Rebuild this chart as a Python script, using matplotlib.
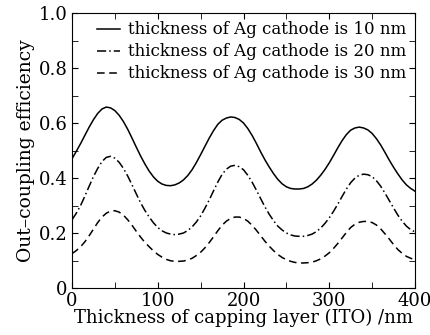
import matplotlib.pyplot as plt
import numpy as np

# Capping layer thickness (nm)
thickness = np.arange(0, 401, 5)

# Out-coupling efficiency for each Ag cathode thickness
eff_10nm = [0.470, 0.497, 0.525, 0.555, 0.585, 0.612, 0.635, 0.651, 0.658, 0.655,
            0.645, 0.628, 0.605, 0.577, 0.545, 0.512, 0.480, 0.451, 0.425, 0.404,
            0.388, 0.378, 0.373, 0.372, 0.375, 0.382, 0.393, 0.409, 0.430, 0.456,
            0.485, 0.515, 0.545, 0.572, 0.595, 0.610, 0.618, 0.622, 0.620, 0.613,
            0.600, 0.580, 0.555, 0.526, 0.495, 0.466, 0.440, 0.416, 0.395, 0.379,
            0.368, 0.362, 0.360, 0.360, 0.362, 0.368, 0.378, 0.392, 0.410, 0.431,
            0.455, 0.482, 0.510, 0.536, 0.558, 0.574, 0.582, 0.585, 0.582, 0.575,
            0.562, 0.543, 0.520, 0.493, 0.465, 0.439, 0.415, 0.393, 0.375, 0.362,
            0.352]
eff_20nm = [0.248, 0.272, 0.300, 0.334, 0.370, 0.405, 0.435, 0.460, 0.475, 0.479,
            0.472, 0.457, 0.435, 0.407, 0.375, 0.342, 0.310, 0.282, 0.258, 0.237,
            0.220, 0.208, 0.200, 0.196, 0.194, 0.196, 0.200, 0.209, 0.222, 0.240,
            0.262, 0.290, 0.320, 0.353, 0.385, 0.413, 0.432, 0.443, 0.446, 0.441,
            0.430, 0.410, 0.385, 0.356, 0.325, 0.295, 0.268, 0.245, 0.225, 0.211,
            0.200, 0.193, 0.189, 0.188, 0.188, 0.191, 0.196, 0.205, 0.218, 0.235,
            0.255, 0.279, 0.305, 0.333, 0.360, 0.383, 0.400, 0.410, 0.414, 0.412,
            0.405, 0.390, 0.370, 0.345, 0.318, 0.291, 0.265, 0.243, 0.225, 0.212,
            0.204]
eff_30nm = [0.125, 0.136, 0.150, 0.168, 0.190, 0.214, 0.238, 0.258, 0.272, 0.280,
            0.281, 0.276, 0.265, 0.248, 0.228, 0.206, 0.185, 0.166, 0.150, 0.135,
            0.122, 0.112, 0.104, 0.099, 0.097, 0.097, 0.098, 0.102, 0.108, 0.118,
            0.130, 0.146, 0.165, 0.186, 0.208, 0.228, 0.243, 0.253, 0.258, 0.258,
            0.253, 0.243, 0.228, 0.210, 0.190, 0.170, 0.152, 0.136, 0.122, 0.111,
            0.103, 0.097, 0.093, 0.091, 0.091, 0.092, 0.094, 0.099, 0.106, 0.116,
            0.128, 0.144, 0.162, 0.182, 0.202, 0.220, 0.232, 0.239, 0.242, 0.242,
            0.238, 0.229, 0.215, 0.197, 0.178, 0.158, 0.140, 0.126, 0.115, 0.108,
            0.103]

labels = ['thickness of Ag cathode is 10 nm',
          'thickness of Ag cathode is 20 nm',
          'thickness of Ag cathode is 30 nm']

plt.rcParams['font.family'] = 'DejaVu Serif'

fig = plt.figure(figsize=(4.31, 3.35), dpi=100)
ax = fig.add_axes([72 / 431, 47 / 335, 343 / 431, 275 / 335])

ax.plot(thickness, eff_10nm, color='black', lw=1.1, ls='-', label=labels[0])
ax.plot(thickness, eff_20nm, color='black', lw=1.1, ls=(0, (6, 2, 1, 2)), label=labels[1])
ax.plot(thickness, eff_30nm, color='black', lw=1.1, ls=(0, (5, 3)), label=labels[2])

ax.set_xlim(0, 400)
ax.set_ylim(0, 1.0)
ax.set_xticks([0, 100, 200, 300, 400])
ax.set_xticks([50, 150, 250, 350], minor=True)
ax.set_yticks([0, 0.2, 0.4, 0.6, 0.8, 1.0])
ax.set_yticklabels(['0', '0.2', '0.4', '0.6', '0.8', '1.0'])
ax.set_yticks([0.1, 0.3, 0.5, 0.7, 0.9], minor=True)
ax.tick_params(which='both', direction='in', top=True, right=True, labelsize=13, pad=3)
ax.tick_params(which='both', length=4)

ax.set_xlabel('Thickness of capping layer (ITO) /nm', fontsize=13, labelpad=-1)
ax.set_ylabel('Out\u2013coupling efficiency', fontsize=13.5, labelpad=3)

ax.legend(loc='upper right', frameon=False, fontsize=12, handlelength=1.4,
          handletextpad=0.5, labelspacing=0.3, borderaxespad=0.1)

fig.savefig('out.png', dpi=100)
